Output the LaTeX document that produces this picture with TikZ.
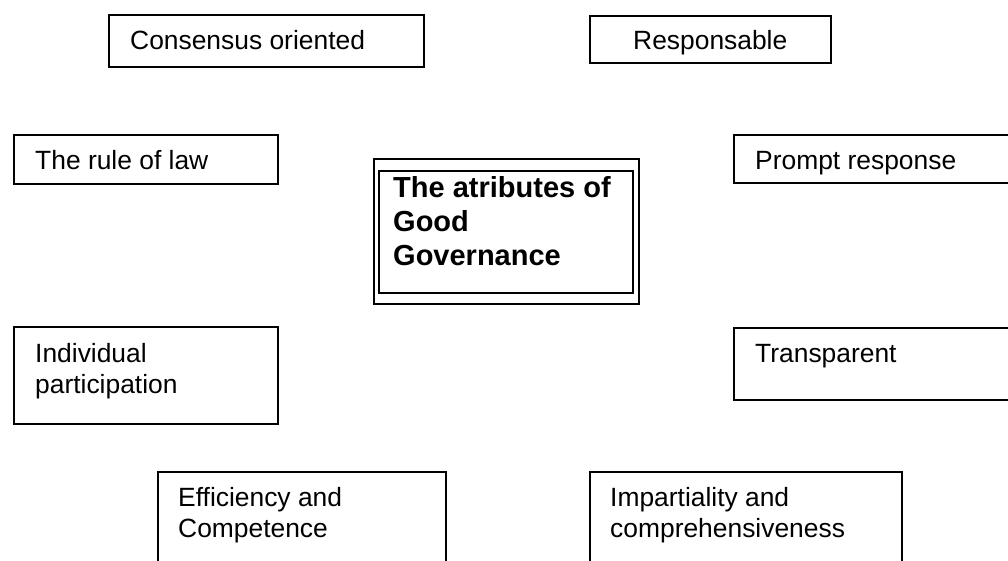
\documentclass[tikz,border=0pt]{standalone}
\usepackage{fontspec}
\setmainfont{Liberation Sans}
\newcommand\twoln[2]{\vtop{\hbox{#1}\hbox{#2}}}
\newcommand\threeln[3]{\vtop{\hbox{#1}\hbox{#2}\hbox{#3}}}
\begin{document}
\begin{tikzpicture}[x=1pt,y=-1pt,
  box/.style={draw, line width=1.8pt, anchor=north west, inner sep=0pt},
  txt/.style={anchor=base west, inner sep=0pt, font=\fontsize{26.4}{31}\selectfont},
  btxt/.style={anchor=base west, inner sep=0pt, font=\fontsize{29}{33.5}\selectfont\bfseries}]
\useasboundingbox (0,0) rectangle (1008,561);
\clip (0,0) rectangle (1008,561);
% boxes
\node[box, minimum width=315pt, minimum height=52pt] (cons) at (108,14) {};
\node[box, minimum width=241pt, minimum height=47pt] (resp) at (589,15) {};
\node[box, minimum width=264pt, minimum height=49pt] (rule) at (13,134) {};
\node[box, minimum width=290pt, minimum height=48pt] (prompt) at (733,134) {};
\node[box, minimum width=264pt, minimum height=97pt] (indiv) at (13,326) {};
\node[box, minimum width=290pt, minimum height=72pt] (transp) at (733,327) {};
\node[box, minimum width=288pt, minimum height=110pt] (effic) at (157,471) {};
\node[box, minimum width=312pt, minimum height=110pt] (impart) at (589,471) {};
\node[box, minimum width=265pt, minimum height=145pt] (outer) at (373,158) {};
\node[box, minimum width=254pt, minimum height=122pt] (inner) at (378,170) {};
% texts
\node[txt] (tcons) at (130,50) {Consensus oriented};
\node[txt] (tresp) at (633,50) {Responsable};
\node[txt] (trule) at (35,170) {The rule of law};
\node[txt] (tprompt) at (755,170) {Prompt response};
\node[txt] (tindiv) at (35,362) {\twoln{Individual}{participation}};
\node[txt] (ttransp) at (755,362) {Transparent};
\node[txt] (teffic) at (178,506) {\twoln{Efficiency and}{Competence}};
\node[txt] (timpart) at (610,506) {\twoln{Impartiality and}{comprehensiveness}};
\node[btxt] (tcenter) at (393,198) {\threeln{The atributes of}{Good}{Governance}};
\end{tikzpicture}
\end{document}
